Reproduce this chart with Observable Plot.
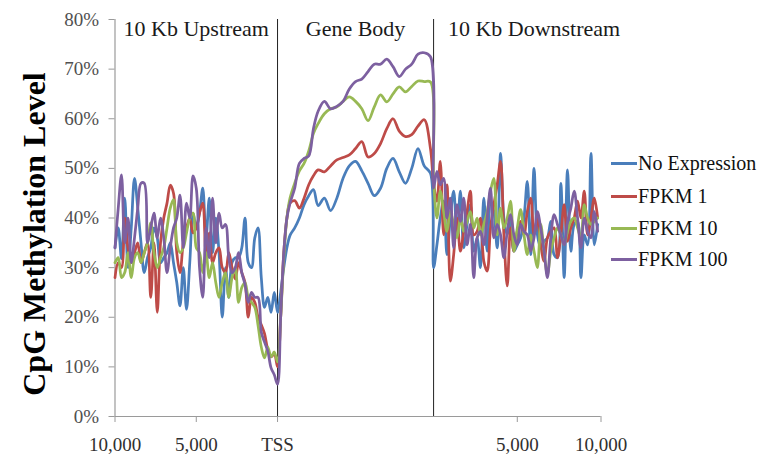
<!DOCTYPE html>
<html><head><meta charset="utf-8">
<script src="https://cdn.jsdelivr.net/npm/d3@7"></script>
<script src="https://cdn.jsdelivr.net/npm/@observablehq/plot@0.6"></script>
<style>
body{margin:0;background:#fff}
#wrap{position:relative;width:770px;height:455px;font-family:"Liberation Serif","Times New Roman",serif}
.item{position:absolute;left:611px;height:24px;display:flex;align-items:center;font-size:20px;color:#111;white-space:nowrap}
.sw{display:inline-block;width:26px;height:3px;margin-right:1px}
</style></head><body><div id="wrap"></div>
<script>
// ---- data ----
const series = ["No Expression", "FPKM 1", "FPKM 10", "FPKM 100"];
const colors = ["#4a7ebb", "#be4b48", "#98b954", "#7d60a0"];

// upstream bins: 200 bp steps from -10 kb to TSS (units of 100 bp)
const upPos = d3.range(-100, 1, 2);
// gene body: percent of gene length
const genePct = [2,4,6,8,11,14,17,20,23,26,30,34,38,42,46,50,54,58,62,66,70,74,78,82,86,90,94,98];
// downstream bins: 200 bp steps from TES (units of 100 bp)
const downPos = d3.range(0, 99, 2);

const blueUp = [34,38,31.8,44,30,38,48,42,35,29,32,34,38,36,31,32,33,35,31,27,22.3,30,21.6,31,41,38,41,46,36,44,33,40,33,20,30,24,31,32,32,34,40,31,30,36,38,28,22,24,21,25,21];
const redUp = [28,31,30,40,34,31,33,35,31,33,35,24,35,21,35,40,43,46.6,45,33,29,35,38,40,37,38,41,43,33,37,31,33,34,30,29,33,30,27.7,31,29,27,20,24,23,20,18.5,16.7,13.5,12,12.6,10];
const greenUp = [31,32,28,29,33,28,32,33,31,33,35,39,33,30,32,34,38,42,43.7,35,33,34,37,40,41,34,33,29,33,28,31,27,24,27,29,24,28,30,23,26,27,24,23,22,18.4,14,11.8,14,12,13,11];
const purpleUp = [34,42,48.7,35,40,31,36,42,47,47,35,38,41,36,40,36,29,34,38,40,44.6,34,43,40,48.5,46,30,24,38,32,44,35,41,38,38.7,32,29,30,33,29,26.6,23,25,24,24,17,15,13.2,9.8,8.4,6.5];

const blueGene = [25,30,34,36.5,38,40,42.7,44.5,45.7,42.5,44,41.5,44,48,50.5,51.4,49.5,47,44.5,46,50,52,49.3,47,50,54,50.5,49];
const redGene = [20,33,40,43,43.5,42,44,46.7,48.5,49.7,49.3,50.5,51.7,52.2,52.7,54,55.4,52.3,53,55,58,60,57.5,56.4,56.8,58.5,59.8,54];
const greenGene = [20,32,40,44,47,49.5,51,53.5,57,59,61,62,62.4,63.5,64.4,63.5,62,59.6,62.4,64.8,63.4,65,66.4,65.4,66.5,67.6,67.5,67.4];
const purpleGene = [20,33,40,43,46,51,52,52.5,58,61.5,63.5,62,62.5,63.5,66,67.5,68,69.5,71,71,72,70.5,68.5,70,71,73,73.3,72.5];

const blueDown = [30,34.6,40,43.4,32.6,40,45.4,36.6,45.4,34,38.7,42.7,33.3,36,30,44,33.3,43.4,41.3,34,53,40,36.6,40,33.3,34.6,36,40,47.4,32.6,50,36.6,34,35.3,36,39.3,32.6,32,47,28,49.7,33.3,38.7,39.3,28,36.6,34.6,53,34.6,38.7];
const redDown = [47,43.4,51.4,36.6,46.7,27.3,32.6,40,33.3,37.3,41.3,45.4,36.6,37.3,40,31.3,29.3,38,42.7,46.7,51.4,36.6,26.3,38,33.3,37.3,39.3,36.6,41.3,44,36.6,40,34.6,31.3,36,37.3,38,32,36.6,42.7,35.3,38,40,43.4,40,45.4,36.6,40,44,40];
const greenDown = [48,40,45.4,41.3,37.3,41.3,38.7,36,40,37.3,39.3,41.3,38,40,36.6,38.7,41.3,45.4,48,36.6,42,38,40,43.4,33.3,38,41.7,36.6,32.6,36.6,33.3,30,38.7,33.3,28.6,33.3,36,38,36.6,34.6,37.3,39.3,40,38,36,42.7,40,38.7,39.3,40];
const purpleDown = [46,49.4,46.7,48,40,44,34,42.7,39.3,44,34.6,38.7,28,36,37.3,34.6,40,46,36,38.7,36.6,32,37.3,40.7,36.6,34.6,38.7,37.3,36.6,33.3,36,41.3,38,33.3,28,36,40.7,38.7,36.6,34.6,39.3,42,45.4,40,34,40,37.3,36,41.3,37.3];

const yTicks = [0,10,20,30,40,50,60,70,80];
const xTickLabels = ["10,000", "5,000", "TSS", "5,000", "10,000"];
const sectionLabels = ["10 Kb Upstream", "Gene Body", "10 Kb Downstream"];
const yTitle = "CpG Methylation Level";

// ---- layout of the three sections on one axis ----
const GENE_SPAN = 96;   // axis units taken by the gene body
const DOWN_SCALE = 1.03; // axis units per 100 bp downstream
const geneX = p => p * GENE_SPAN / 100;
const downX = p => GENE_SPAN + p * DOWN_SCALE;
const xTicks = [-100, -50, 0, downX(50), downX(100)];
const boundaries = [0, GENE_SPAN];
const sectionPos = [-50, geneX(50), downX(60)];

const parts = [
  [blueUp, blueGene, blueDown],
  [redUp, redGene, redDown],
  [greenUp, greenGene, greenDown],
  [purpleUp, purpleGene, purpleDown]
];
const rows = [];
parts.forEach(([u, g, d], si) => {
  u.forEach((v, i) => rows.push({series: series[si], pos: upPos[i], value: v}));
  g.forEach((v, i) => rows.push({series: series[si], pos: geneX(genePct[i]), value: v}));
  d.forEach((v, i) => rows.push({series: series[si], pos: downX(downPos[i]), value: v}));
});
const xLabelMap = new Map(xTicks.map((t, i) => [t, xTickLabels[i]]));
const font = '"Liberation Serif","Times New Roman",serif';

const chart = Plot.plot({
  width: 770, height: 455,
  marginLeft: 114.5, marginRight: 169.5, marginTop: 19, marginBottom: 39,
  style: {fontFamily: font, background: "white", overflow: "visible"},
  x: {domain: [-100, downX(100)]},
  y: {domain: [0, 80]},
  color: {domain: series, range: colors},
  marks: [
    Plot.ruleX(boundaries, {stroke: "#222", strokeWidth: 1}),
    Plot.ruleX([-100], {stroke: "#9a9a9a", strokeWidth: 1.2}),
    Plot.ruleY([0], {stroke: "#9a9a9a", strokeWidth: 1.2}),
    Plot.axisY({ticks: yTicks, tickFormat: d => d + "%", tickSize: 6, tickPadding: 10, stroke: "#9a9a9a", fill: "#505050", fontSize: 19, label: null}),
    Plot.axisX({ticks: xTicks, tickFormat: d => xLabelMap.get(d), tickSize: 6, tickPadding: 15, stroke: "#9a9a9a", fill: "#303030", fontSize: 19, label: null}),
    Plot.line(rows, {x: "pos", y: "value", stroke: "series", z: "series", strokeWidth: 2.75, curve: "catmull-rom"}),
    Plot.text(sectionLabels, {x: (d, i) => sectionPos[i], text: d => d, frameAnchor: "top", lineAnchor: "top", dy: 1, fontSize: 22, fill: "#1a1a1a"}),
    Plot.text([yTitle], {text: d => d, frameAnchor: "left", textAnchor: "middle", dx: -80, dy: 16, rotate: -90, fontSize: 32, fontWeight: "bold", fill: "#000"})
  ]
});
const wrap = document.getElementById("wrap");
wrap.appendChild(chart);

const legendY = [163, 196, 228, 259];
series.forEach((s, i) => {
  const it = document.createElement("div");
  it.className = "item";
  it.style.top = (legendY[i] - 12) + "px";
  it.innerHTML = `<span class="sw" style="background:${colors[i]}"></span><span>${s}</span>`;
  wrap.appendChild(it);
});
</script></body></html>
